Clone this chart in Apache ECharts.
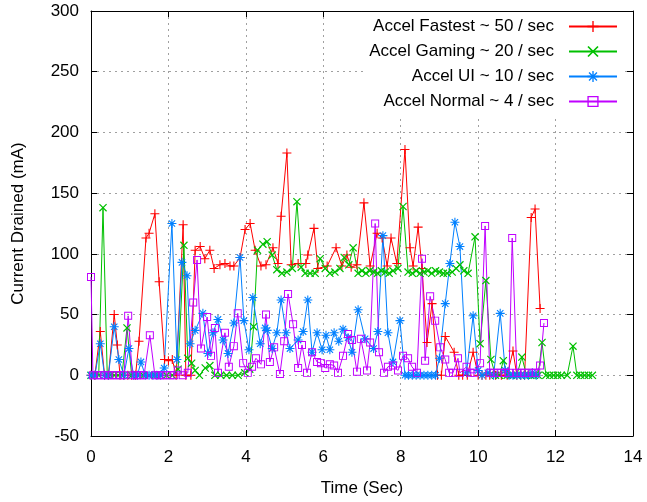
<!DOCTYPE html>
<html><head><meta charset="utf-8">
<script src="https://cdn.jsdelivr.net/npm/echarts@6/dist/echarts.min.js"></script>
<style>html,body{margin:0;padding:0;background:#fff}#c{width:647px;height:502px}</style>
</head><body><div id="c"></div>
<script>
const seriesNames = ['Accel Fastest ~ 50 / sec','Accel Gaming ~ 20 / sec','Accel UI ~ 10 / sec','Accel Normal ~ 4 / sec'];
const xLabel = 'Time (Sec)';
const yLabel = 'Current Drained (mA)';

const fastest = [[0,0],[0.1,0],[0.24,36],[0.35,0],[0.45,0],[0.6,50],[0.68,25],[0.75,0],[0.85,0],[0.95,0],[1.05,0],[1.15,0],[1.24,28],[1.42,113],[1.5,117],[1.65,133],[1.76,77],[1.9,13],[2.0,12],[2.1,13],[2.2,0],[2.38,124],[2.45,0],[2.58,0],[2.69,103],[2.82,106],[2.94,96],[3.07,103],[3.18,88],[3.33,91],[3.46,92],[3.59,90],[3.69,90],[3.85,97],[3.98,120],[4.11,125],[4.24,103],[4.39,90],[4.52,91],[4.7,105],[4.83,92],[4.91,131],[5.06,183],[5.17,91],[5.35,92],[5.55,92],[5.6,99],[5.76,121],[5.86,88],[6.1,90],[6.33,105],[6.48,90],[6.61,99],[6.72,89],[6.87,91],[7.05,142],[7.21,90],[7.39,117],[7.52,113],[7.65,90],[7.75,113],[7.9,92],[8.11,186],[8.24,105],[8.32,90],[8.45,122],[8.55,88],[8.68,27],[8.81,59],[8.95,0],[9.05,0],[9.15,32],[9.38,19],[9.5,0],[9.6,0],[9.72,0],[9.87,19],[10.0,0],[10.1,0],[10.2,0],[10.3,0],[10.45,0],[10.6,0],[10.75,0],[10.9,20],[11.0,0],[11.1,0],[11.2,0],[11.37,130],[11.47,137],[11.6,55]];

const gaming = [[0,0],[0.1,0],[0.2,0],[0.31,138],[0.42,0],[0.5,0],[0.6,0],[0.7,0],[0.8,0],[0.93,39],[1.05,0],[1.2,0],[1.35,0],[1.5,0],[1.65,0],[1.8,0],[1.95,0],[2.1,0],[2.25,5],[2.4,107],[2.5,14],[2.6,10],[2.69,4],[2.8,0],[2.95,6],[3.07,8],[3.2,0],[3.35,0],[3.5,0],[3.65,0],[3.8,0],[3.97,2],[4.1,5],[4.2,40],[4.3,103],[4.44,108],[4.55,110],[4.68,99],[4.8,87],[4.93,84],[5.06,85],[5.2,88],[5.32,143],[5.43,89],[5.53,84],[5.66,84],[5.79,84],[5.92,96],[6.05,88],[6.17,84],[6.3,85],[6.43,88],[6.54,97],[6.66,91],[6.77,105],[6.9,84],[7.0,86],[7.1,84],[7.2,86],[7.3,85],[7.4,84],[7.5,86],[7.6,85],[7.7,84],[7.8,86],[7.93,88],[8.06,139],[8.19,85],[8.3,84],[8.4,86],[8.5,84],[8.6,85],[8.7,86],[8.8,84],[8.9,86],[9.0,85],[9.1,84],[9.2,84],[9.33,85],[9.43,88],[9.53,91],[9.63,86],[9.74,84],[9.92,114],[10.05,26],[10.2,78],[10.33,13],[10.45,0],[10.55,0],[10.65,12],[10.75,0],[10.85,0],[11.0,0],[11.13,15],[11.25,0],[11.35,0],[11.45,0],[11.55,0],[11.65,27],[11.75,0],[11.85,0],[11.95,0],[12.05,0],[12.15,0],[12.3,0],[12.45,24],[12.55,0],[12.65,0],[12.75,0],[12.85,0],[12.95,0]];

const ui = [[0,0],[0.1,0],[0.24,26],[0.35,0],[0.45,0],[0.6,40],[0.72,13],[0.85,0],[0.98,22],[1.1,0],[1.2,0],[1.29,11],[1.4,0],[1.5,0],[1.6,0],[1.7,0],[1.8,0],[1.89,6],[2.09,125],[2.22,13],[2.35,93],[2.48,82],[2.56,26],[2.69,37],[2.89,51],[3.02,18],[3.15,35],[3.28,46],[3.41,29],[3.54,18],[3.69,43],[3.85,97],[3.95,45],[4.08,21],[4.18,64],[4.37,26],[4.5,39],[4.55,37],[4.68,22],[4.8,35],[4.91,62],[5.04,35],[5.14,22],[5.35,29],[5.48,36],[5.6,62],[5.71,19],[5.84,35],[5.97,21],[6.07,33],[6.17,21],[6.28,35],[6.4,28],[6.51,38],[6.64,31],[6.74,19],[6.9,54],[7.08,30],[7.3,22],[7.41,36],[7.54,115],[7.67,35],[7.8,11],[7.98,45],[8.11,0],[8.2,0],[8.3,0],[8.4,0],[8.5,0],[8.6,0],[8.7,0],[8.8,0],[8.9,0],[9.0,14],[9.15,59],[9.27,92],[9.4,126],[9.53,106],[9.7,2],[9.87,49],[10.0,4],[10.1,0],[10.25,2],[10.4,0],[10.57,51],[10.7,4],[10.8,0],[10.9,0],[11.0,0],[11.1,0],[11.2,0],[11.3,0],[11.4,2],[11.5,0]];

const normal = [[0,81],[0.05,0],[0.15,0],[0.25,0],[0.35,0],[0.45,0],[0.55,0],[0.65,0],[0.75,0],[0.85,0],[0.96,49],[1.07,0],[1.17,0],[1.27,0],[1.37,0],[1.52,33],[1.65,0],[1.75,0],[1.85,0],[1.95,0],[2.05,0],[2.15,0],[2.24,4],[2.37,0],[2.5,2],[2.64,60],[2.74,95],[2.84,22],[3.0,48],[3.1,16],[3.2,39],[3.28,2],[3.46,35],[3.56,7],[3.69,24],[3.79,51],[3.93,10],[4.05,2],[4.16,7],[4.26,14],[4.39,9],[4.52,50],[4.62,11],[4.73,23],[4.88,1],[4.99,28],[5.09,67],[5.22,42],[5.35,6],[5.45,25],[5.58,2],[5.71,19],[5.84,11],[5.94,10],[6.05,6],[6.17,9],[6.28,8],[6.38,2],[6.51,16],[6.64,34],[6.74,29],[6.87,3],[6.97,30],[7.13,4],[7.21,27],[7.34,125],[7.44,19],[7.57,2],[7.67,7],[7.8,8],[7.93,4],[8.06,16],[8.19,14],[8.29,7],[8.42,2],[8.55,96],[8.63,12],[8.76,65],[8.89,45],[9.02,23],[9.15,13],[9.25,2],[9.35,2],[9.48,14],[9.53,2],[9.7,7],[9.8,2],[9.9,2],[10.05,10],[10.18,123],[10.3,2],[10.4,2],[10.5,2],[10.6,2],[10.7,2],[10.8,2],[10.88,113],[11.0,2],[11.1,2],[11.2,2],[11.3,2],[11.4,2],[11.5,2],[11.6,8],[11.7,43]];

const colors = ['#ff0000','#00c000','#0080ff','#c000ff'];

function bar(angle, hh){
  const a = angle*Math.PI/180, c = Math.cos(a), s = Math.sin(a), hw = 5;
  const pts = [[-hw,-hh],[hw,-hh],[hw,hh],[-hw,hh]].map(([x,y]) => [5 + x*c - y*s, 5 + x*s + y*c]);
  return 'M' + pts.map(p => p[0].toFixed(3) + ',' + p[1].toFixed(3)).join('L') + 'Z';
}
const plusSym = 'path://' + bar(0,0.6) + bar(90,0.6);
const crossSym = 'path://' + bar(45,0.6) + bar(135,0.6);
const starSym = 'path://' + bar(0,0.6) + bar(90,0.6) + bar(45,0.6) + bar(135,0.6);
const squareSym = 'path://M0,0H10V10H0Z M1.2,1.2V8.8H8.8V1.2Z';
const symbols = [plusSym, crossSym, starSym, squareSym];
const symSizes = [9, 8, 9, 8];
const datasets = [fastest, gaming, ui, normal];

const chart = echarts.init(document.getElementById('c'), null, {renderer: 'canvas'});
const font = 'Liberation Sans';
const axisCommon = {
  axisLine: {show: true, onZero: false, lineStyle: {color: '#000', width: 1}},
  axisTick: {show: true, inside: true, length: 6, lineStyle: {color: '#000'}},
  minorTick: {show: false}
};
chart.setOption({
  animation: false,
  backgroundColor: '#fff',
  textStyle: {fontFamily: font},
  grid: {left: 91, right: 14, top: 11, bottom: 66, containLabel: false, outerBoundsMode: 'none'},
  legend: {
    orient: 'vertical', right: 22, top: 12, align: 'right',
    padding: [6, 7, 6, 6], itemGap: 8, itemHeight: 14, itemWidth: 48,
    backgroundColor: '#fff',
    textStyle: {fontFamily: font, fontSize: 17, color: '#000', padding: [0, 10, 0, 0]},
    data: seriesNames
  },
  xAxis: [
    Object.assign({type: 'value', min: 0, max: 14, interval: 2, position: 'bottom',
      name: xLabel, nameLocation: 'middle', nameGap: 44,
      nameTextStyle: {fontFamily: font, fontSize: 17, color: '#000'},
      axisLabel: {fontFamily: font, fontSize: 17, color: '#000', margin: 13},
      splitLine: {show: true, lineStyle: {color: '#a0a0a0', type: [2, 4], width: 1}}}, axisCommon),
    Object.assign({type: 'value', min: 0, max: 14, interval: 2, position: 'top',
      axisLabel: {show: false}, splitLine: {show: false}}, axisCommon)
  ],
  yAxis: [
    Object.assign({type: 'value', min: -50, max: 300, interval: 50, position: 'left',
      name: yLabel, nameLocation: 'middle', nameGap: 64,
      nameTextStyle: {fontFamily: font, fontSize: 17, color: '#000'},
      axisLabel: {fontFamily: font, fontSize: 17, color: '#000', margin: 12},
      splitLine: {show: true, lineStyle: {color: '#a0a0a0', type: [2, 4], width: 1}}}, axisCommon),
    Object.assign({type: 'value', min: -50, max: 300, interval: 50, position: 'right',
      axisLabel: {show: false}, splitLine: {show: false}}, axisCommon)
  ],
  series: datasets.map((d, i) => ({
    name: seriesNames[i],
    type: 'line',
    xAxisIndex: 0, yAxisIndex: 0,
    data: d,
    symbol: symbols[i],
    symbolSize: symSizes[i],
    showSymbol: true,
    lineStyle: {color: colors[i], width: 1},
    itemStyle: {color: colors[i], borderWidth: 0},
    emphasis: {disabled: true}
  }))
});
</script></body></html>
